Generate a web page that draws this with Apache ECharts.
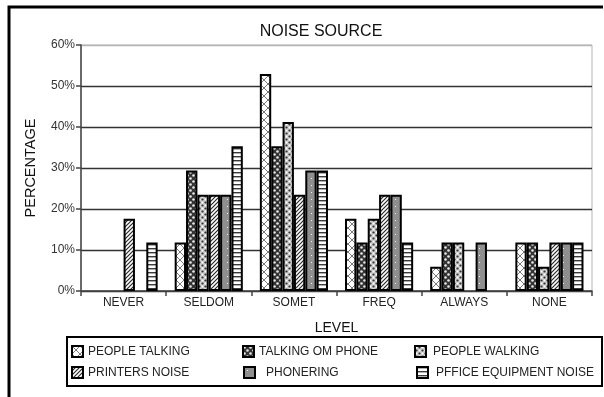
<!DOCTYPE html>
<html>
<head>
<meta charset="utf-8">
<script src="https://cdn.jsdelivr.net/npm/echarts@6/dist/echarts.min.js"></script>
<style>
  html, body { margin: 0; padding: 0; background: #fff; }
  #chart { width: 604px; height: 397px; }
</style>
</head>
<body>
<div id="chart"></div>
<script>
// Frequency levels on the x axis
const levels = ['NEVER', 'SELDOM', 'SOMET', 'FREQ', 'ALWAYS', 'NONE'];

// Share of respondents (%) per noise source, one value per level
const peopleTalking   = [0,    11.8, 52.9, 17.6, 5.9,  11.8];
const talkingOnPhone  = [0,    29.4, 35.3, 11.8, 11.8, 11.8];
const peopleWalking   = [0,    23.5, 41.2, 17.6, 11.8, 5.9];
const printersNoise   = [17.6, 23.5, 23.5, 23.5, 0,    11.8];
const phoneRinging    = [0,    23.5, 29.4, 23.5, 11.8, 11.8];
const officeEquipment = [11.8, 35.3, 29.4, 11.8, 0,    11.8];

const seriesNames = ['PEOPLE TALKING', 'TALKING OM PHONE', 'PEOPLE WALKING',
                     'PRINTERS NOISE', 'PHONERING', 'PFFICE EQUIPMENT NOISE'];
const seriesValues = [peopleTalking, talkingOnPhone, peopleWalking,
                      printersNoise, phoneRinging, officeEquipment];

// Small repeating fill tiles for the monochrome bars
function tile(size, draw) {
  const c = document.createElement('canvas');
  c.width = size; c.height = size;
  const g = c.getContext('2d');
  draw(g, size);
  return { image: c, repeat: 'repeat' };
}

const fills = [
  // crosshatch
  tile(8, (g, s) => {
    g.fillStyle = '#fff'; g.fillRect(0, 0, s, s);
    g.strokeStyle = '#7a7a7a'; g.lineWidth = 1;
    g.beginPath();
    g.moveTo(0, 0); g.lineTo(s, s);
    g.moveTo(s, 0); g.lineTo(0, s);
    g.stroke();
  }),
  // dark with white rings
  tile(6, (g, s) => {
    g.fillStyle = '#333'; g.fillRect(0, 0, s, s);
    g.fillStyle = '#e8e8e8';
    g.beginPath(); g.arc(1.5, 1.5, 1.3, 0, Math.PI * 2); g.fill();
    g.beginPath(); g.arc(4.5, 4.5, 1.3, 0, Math.PI * 2); g.fill();
  }),
  // light with dark speckles
  tile(6, (g, s) => {
    g.fillStyle = '#c8c8c8'; g.fillRect(0, 0, s, s);
    g.fillStyle = '#333';
    g.beginPath(); g.arc(1.5, 4.5, 1.1, 0, Math.PI * 2); g.fill();
    g.beginPath(); g.arc(4.5, 1.5, 1.1, 0, Math.PI * 2); g.fill();
    g.fillStyle = '#fff';
    g.beginPath(); g.arc(1.5, 1.5, 1, 0, Math.PI * 2); g.fill();
    g.beginPath(); g.arc(4.5, 4.5, 1, 0, Math.PI * 2); g.fill();
  }),
  // diagonal hatch
  tile(4, (g, s) => {
    g.fillStyle = '#fff'; g.fillRect(0, 0, s, s);
    g.strokeStyle = '#2a2a2a'; g.lineWidth = 1.2;
    g.beginPath();
    g.moveTo(-1, s + 1); g.lineTo(s + 1, -1);
    g.moveTo(-1, 1); g.lineTo(1, -1);
    g.moveTo(s - 1, s + 1); g.lineTo(s + 1, s - 1);
    g.stroke();
  }),
  // grey with sparse white dots
  tile(7, (g, s) => {
    g.fillStyle = '#8f8f8f'; g.fillRect(0, 0, s, s);
    g.fillStyle = '#f0f0f0';
    g.fillRect(3, 3, 1, 1);
  }),
  // horizontal stripes
  tile(4, (g, s) => {
    g.fillStyle = '#fff'; g.fillRect(0, 0, s, s);
    g.fillStyle = '#3a3a3a'; g.fillRect(0, 0, s, 1.4);
  })
];

const font = 'Liberation Sans, Arial, sans-serif';

// Zero entries are kept as data but drawn without an outline
const series = seriesNames.map((name, i) => ({
  name: name,
  type: 'bar',
  data: seriesValues[i].map(v => v === 0 ? { value: v, itemStyle: { borderWidth: 0 } } : v),
  barGap: '0%',
  barCategoryGap: '20%',
  itemStyle: { color: fills[i], borderColor: '#000', borderWidth: 2 }
}));

// Legend entries laid out in three columns, two rows: [left, top, gap to text]
const legendPos = [
  [71, 345, 5], [242, 345, 5], [414, 345, 7],
  [71, 366, 5], [243, 366, 11], [416, 366, 8]
];
const legends = seriesNames.map((name, i) => ({
  data: [name],
  left: legendPos[i][0],
  top: legendPos[i][1],
  padding: 0,
  itemWidth: 11,
  itemHeight: 11,
  selectedMode: false,
  textStyle: { fontFamily: font, fontSize: 12, color: '#222', padding: [0, 0, 0, legendPos[i][2] - 5] },
  icon: 'rect'
}));

const chart = echarts.init(document.getElementById('chart'), null, { renderer: 'canvas' });
chart.setOption({
  animation: false,
  backgroundColor: '#fff',
  title: {
    text: 'NOISE SOURCE',
    left: 316, top: 19, textAlign: 'center',
    textStyle: { fontFamily: font, fontSize: 16, fontWeight: 'normal', color: '#111' }
  },
  legend: legends,
  grid: {
    left: 81, right: 12, top: 45, bottom: 106,
    show: true, borderColor: '#b5b5b5', borderWidth: 1, backgroundColor: 'transparent'
  },
  xAxis: {
    type: 'category',
    data: levels,
    name: 'LEVEL',
    nameLocation: 'middle',
    nameGap: 30,
    nameTextStyle: { fontFamily: font, fontSize: 14, color: '#111' },
    axisLine: { lineStyle: { color: '#444', width: 1.5 } },
    axisTick: { show: true, interval: 0, length: 5, lineStyle: { color: '#444', width: 1.5 } },
    axisLabel: { fontFamily: font, fontSize: 12, color: '#222', margin: 6, interval: 0 }
  },
  yAxis: {
    type: 'value',
    min: 0, max: 60, interval: 10,
    name: 'PERCENTAGE',
    nameLocation: 'middle',
    nameGap: 43,
    nameTextStyle: { fontFamily: font, fontSize: 14.5, color: '#111' },
    axisLine: { show: true, lineStyle: { color: '#444', width: 1.5 } },
    axisTick: { show: true, length: 5, lineStyle: { color: '#444', width: 1.5 } },
    axisLabel: { formatter: '{value}%', fontFamily: font, fontSize: 12, color: '#333', margin: 6 },
    splitLine: {
      lineStyle: { color: ['#333', '#333', '#333', '#333', '#333', '#333', '#b5b5b5'], width: 1.3 }
    }
  },
  graphic: [
    // outer frame: only its top and left edges fall inside the page
    { type: 'polyline', shape: { points: [[9, 400], [9, 7], [603, 7]] },
      style: { fill: null, stroke: '#000', lineWidth: 3 }, silent: true, z: 100 },
    // legend box
    { type: 'rect', shape: { x: 67, y: 337, width: 535, height: 49 },
      style: { fill: null, stroke: '#000', lineWidth: 2 }, silent: true, z: 100 }
  ],
  series: series
});
</script>
</body>
</html>
